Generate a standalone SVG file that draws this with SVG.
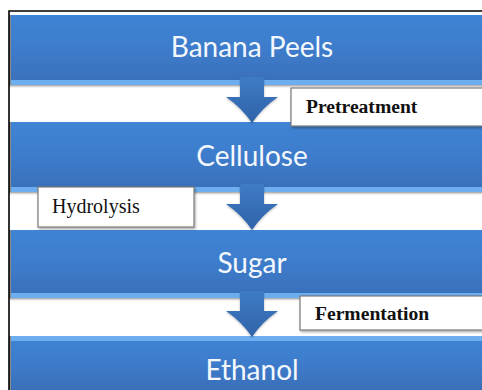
<svg xmlns="http://www.w3.org/2000/svg" width="482" height="390" viewBox="0 0 482 390">
  <defs>
    <linearGradient id="barGrad" x1="0" y1="0" x2="0" y2="1">
      <stop offset="0" stop-color="#3f84d5"/>
      <stop offset="0.5" stop-color="#3d7ccb"/>
      <stop offset="1" stop-color="#3a6fb8"/>
    </linearGradient>
    <linearGradient id="arrowGrad" x1="0" y1="0" x2="0" y2="1">
      <stop offset="0" stop-color="#3f7bc6"/>
      <stop offset="1" stop-color="#2f63a8"/>
    </linearGradient>
    <linearGradient id="shadowGrad" x1="0" y1="0" x2="0" y2="1">
      <stop offset="0" stop-color="#9a9a9a"/>
      <stop offset="1" stop-color="#ffffff" stop-opacity="0"/>
    </linearGradient>
    <filter id="boxShadow" x="-10%" y="-20%" width="130%" height="150%">
      <feDropShadow dx="1" dy="1.5" stdDeviation="1" flood-color="#000" flood-opacity="0.35"/>
    </filter>
    <filter id="arrowShadow" x="-20%" y="-20%" width="140%" height="140%">
      <feDropShadow dx="0" dy="1" stdDeviation="1" flood-color="#000" flood-opacity="0.3"/>
    </filter>
  </defs>
  <style>
    .bar { fill: url(#barGrad); }
    .edge { fill: #8c8c8c; }
    .hl { fill: #6caef0; }
    .shadow { fill: url(#shadowGrad); }
    .title { font-family: Lato, "Open Sans", sans-serif; font-size: 28px; fill: #f4f8fd; text-anchor: middle; }
    .arrow { fill: url(#arrowGrad); filter: url(#arrowShadow); }
    .box { fill: #ffffff; stroke: #7a7a7a; stroke-width: 1.2; filter: url(#boxShadow); }
    .lbl { font-family: "Liberation Serif", "Times New Roman", serif; font-size: 20px; fill: #111111; }
    .bold { font-weight: bold; font-size: 19.6px; }
    .frame { stroke: #000000; stroke-width: 1.6; fill: none; }
  </style>
  <rect x="0" y="0" width="482" height="390" fill="#ffffff"/>

  <g id="banana-peels">
    <rect class="edge" x="9" y="15" width="2" height="70"/>
    <rect class="bar" x="11" y="15" width="471" height="70"/>
    <rect class="hl" x="11" y="80" width="471" height="5"/>
    <rect class="shadow" x="9" y="85" width="473" height="4"/>
    <text class="title" x="252" y="57">Banana Peels</text>
  </g>

  <g id="cellulose">
    <rect class="edge" x="9" y="122" width="2" height="70"/>
    <rect class="bar" x="11" y="122" width="471" height="70"/>
    <rect class="hl" x="11" y="187" width="471" height="5"/>
    <rect class="shadow" x="9" y="192" width="473" height="4"/>
    <text class="title" x="252" y="166">Cellulose</text>
  </g>

  <g id="sugar">
    <rect class="edge" x="9" y="230" width="2" height="68"/>
    <rect class="bar" x="11" y="230" width="471" height="68"/>
    <rect class="hl" x="11" y="293" width="471" height="5"/>
    <rect class="shadow" x="9" y="298" width="473" height="4"/>
    <text class="title" x="252" y="273">Sugar</text>
  </g>

  <g id="ethanol">
    <rect class="edge" x="9" y="336" width="2" height="54"/>
    <rect class="bar" x="11" y="336" width="471" height="54"/>
    <rect class="hl" x="11" y="336" width="471" height="5"/>
    <text class="title" x="252" y="380">Ethanol</text>
  </g>

  <g id="connectors">
    <path class="arrow" d="M240,80 Q240,77 243,77 L261,77 Q264,77 264,80 L264,97 L278,97 Q262,108 252,123 Q242,108 226,97 L240,97 Z"/>
    <path class="arrow" d="M240,187 Q240,184 243,184 L261,184 Q264,184 264,187 L264,204 L278,204 Q262,215 252,230 Q242,215 226,204 L240,204 Z"/>
    <path class="arrow" d="M240,294 Q240,291 243,291 L261,291 Q264,291 264,294 L264,311 L278,311 Q262,322 252,337 Q242,322 226,311 L240,311 Z"/>
  </g>

  <g id="pretreatment">
    <rect class="box" x="291" y="88" width="200" height="38"/>
    <text class="lbl bold" x="306" y="113">Pretreatment</text>
  </g>

  <g id="hydrolysis">
    <rect class="box" x="38" y="187" width="156" height="40"/>
    <text class="lbl" x="52" y="213">Hydrolysis</text>
  </g>

  <g id="fermentation">
    <rect class="box" x="300" y="296" width="190" height="34"/>
    <text class="lbl bold" x="315" y="320">Fermentation</text>
  </g>

  <path class="frame" d="M9,390 L9,11 L482,11"/>
</svg>
